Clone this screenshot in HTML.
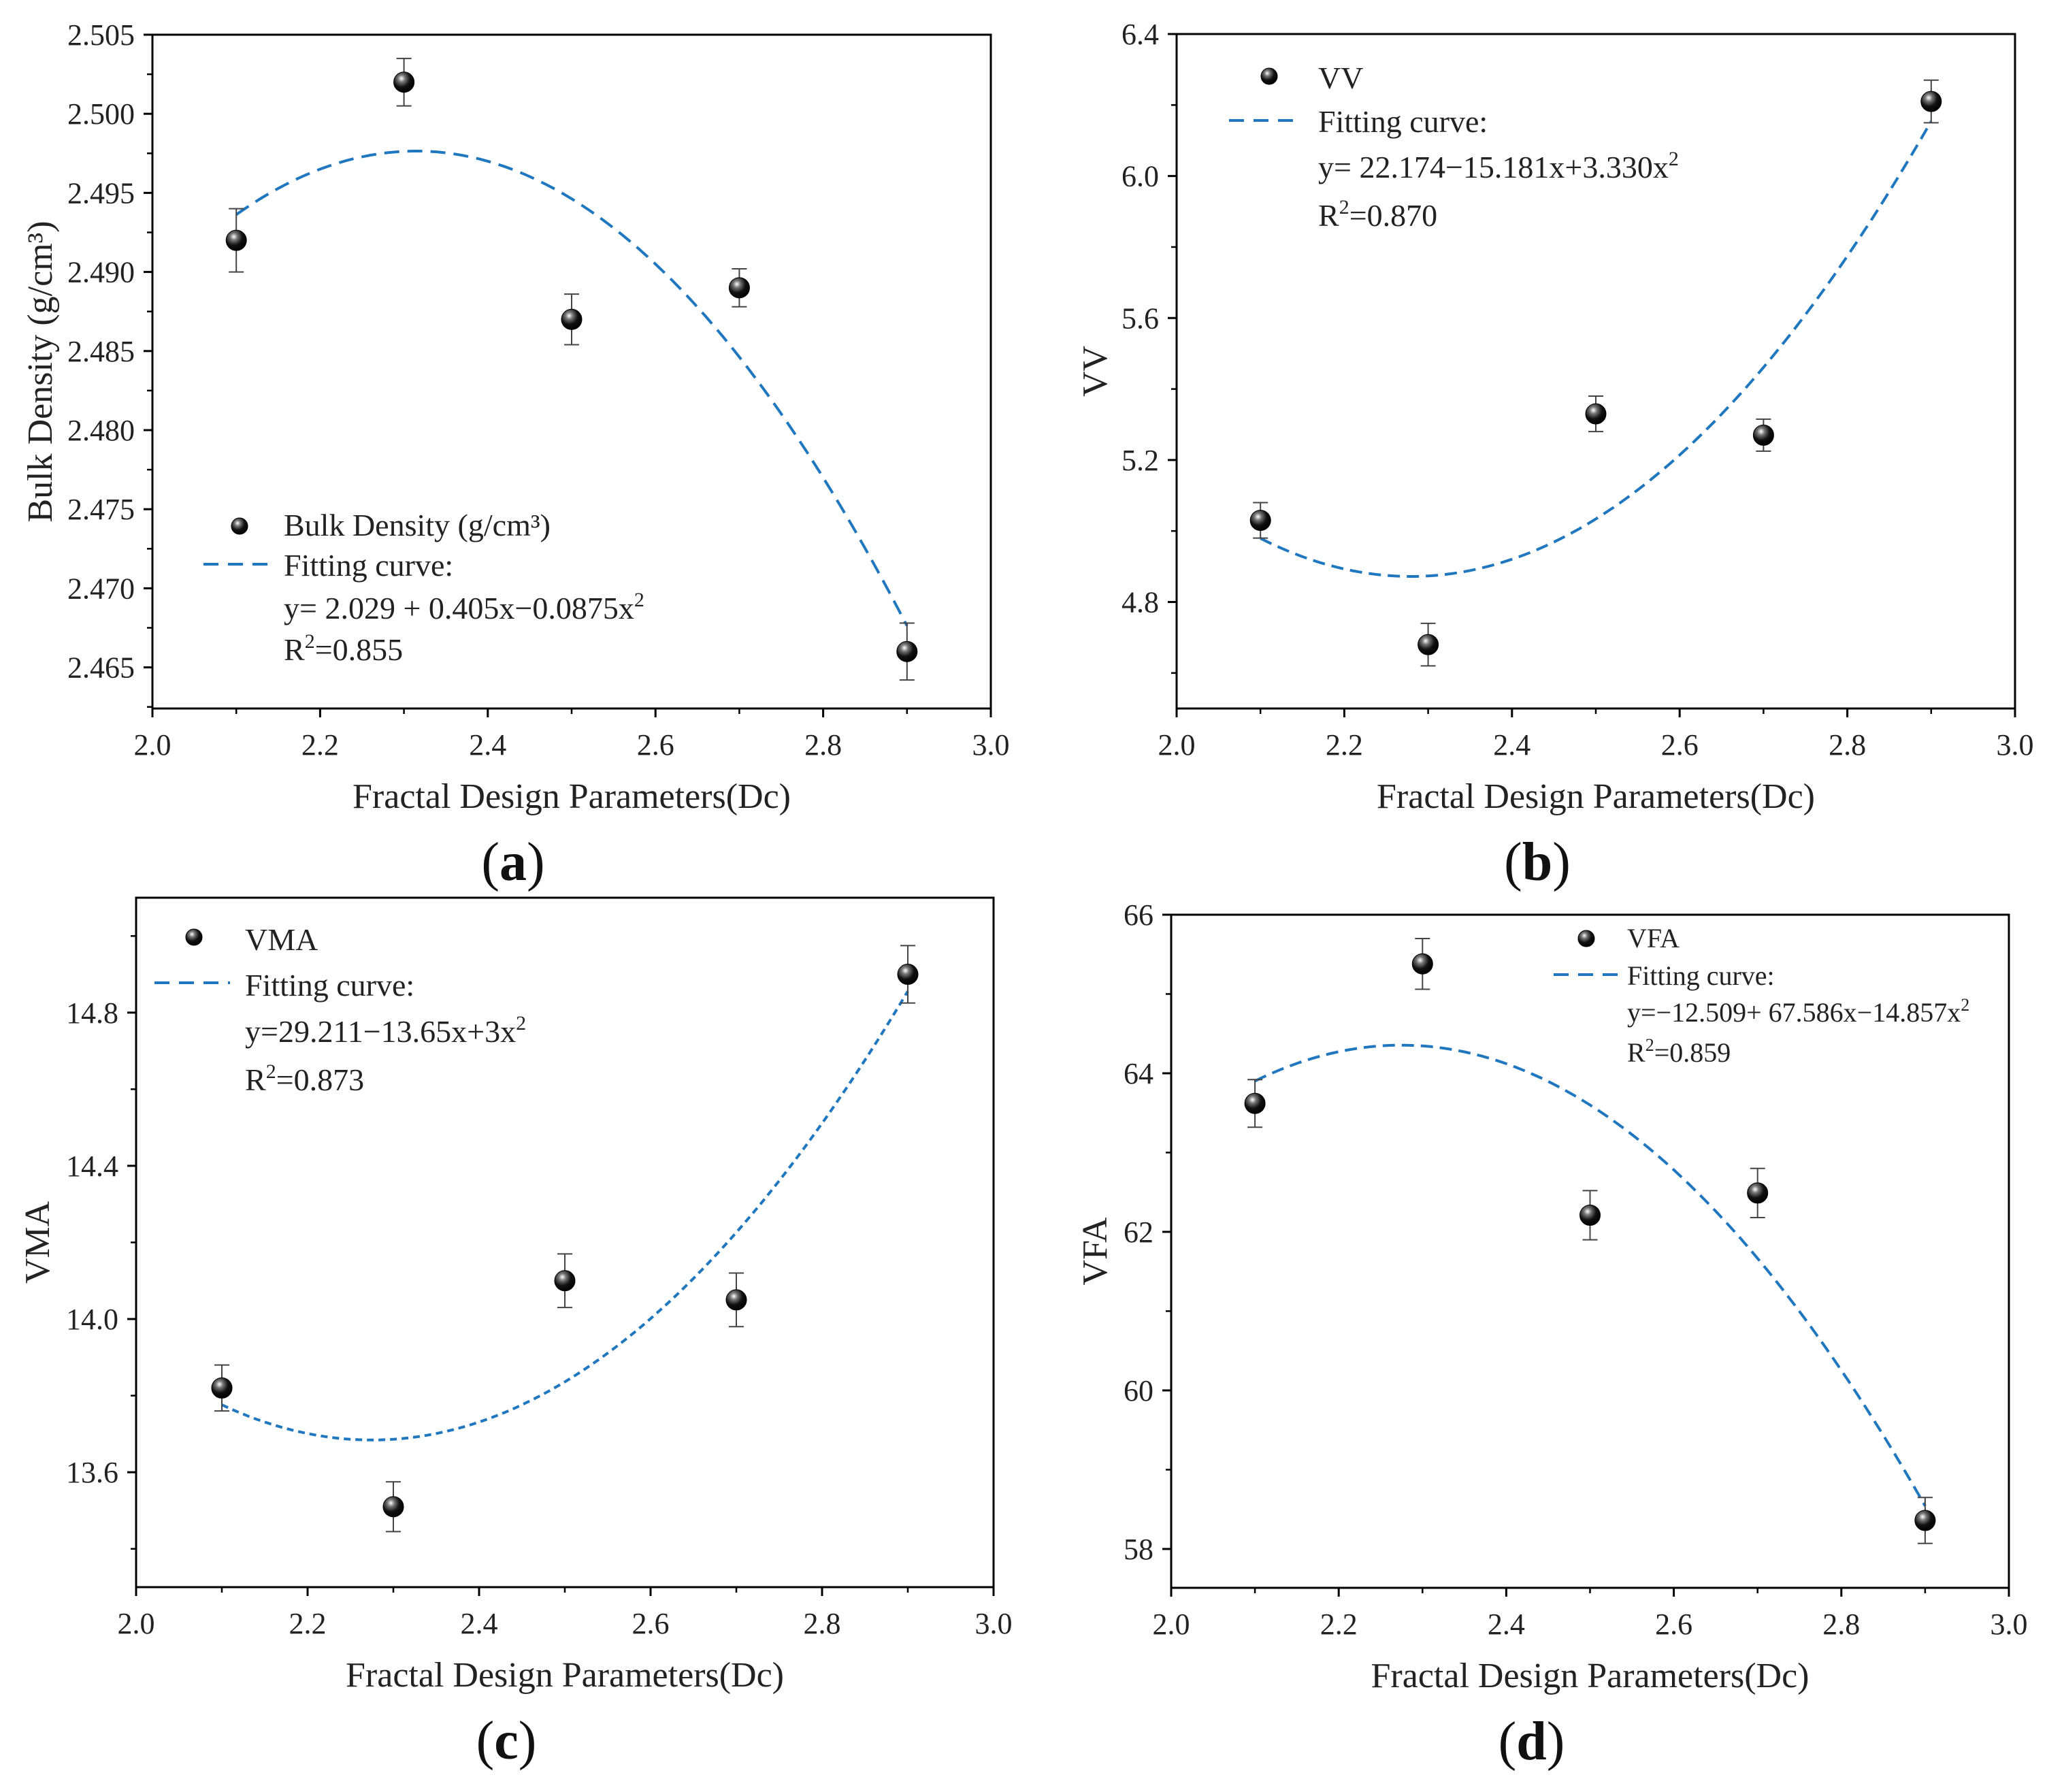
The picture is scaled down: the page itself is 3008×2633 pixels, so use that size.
<!DOCTYPE html>
<html><head><meta charset="utf-8"><style>
html,body{margin:0;padding:0;background:#fff;overflow:hidden;}
svg{display:block;font-family:"Liberation Serif",serif;}
</style></head><body>
<svg id="fig" width="3008" height="2633" viewBox="0 0 3008 2633" xmlns="http://www.w3.org/2000/svg">
<defs>
<radialGradient id="ball" cx="0.38" cy="0.32" r="0.7">
<stop offset="0" stop-color="#ffffff"/><stop offset="0.25" stop-color="#777"/><stop offset="0.6" stop-color="#111"/><stop offset="1" stop-color="#000"/>
</radialGradient>
</defs>
</svg>
<script>
const xCats = [2.1, 2.3, 2.5, 2.7, 2.9];
const xTicks = [2.0, 2.2, 2.4, 2.6, 2.8, 3.0];
const xTickLabels = ["2.0", "2.2", "2.4", "2.6", "2.8", "3.0"];
const bulkValues = [2.492, 2.502, 2.487, 2.489, 2.466];
const bulkErrors = [0.002, 0.0015, 0.0016, 0.0012, 0.0018];
const bulkCoef = [2.029, 0.405, -0.0875];
const bulkTicks = [2.465, 2.470, 2.475, 2.480, 2.485, 2.490, 2.495, 2.500, 2.505];
const bulkTickLabels = ["2.465","2.470","2.475","2.480","2.485","2.490","2.495","2.500","2.505"];
const vvValues = [5.03, 4.68, 5.33, 5.27, 6.21];
const vvErrors = [0.05, 0.06, 0.05, 0.045, 0.06];
const vvCoef = [22.174, -15.181, 3.330];
const vvTicks = [4.8, 5.2, 5.6, 6.0, 6.4];
const vvTickLabels = ["4.8","5.2","5.6","6.0","6.4"];
const vmaValues = [13.82, 13.51, 14.10, 14.05, 14.90];
const vmaErrors = [0.06, 0.065, 0.07, 0.07, 0.075];
const vmaCoef = [29.211, -13.65, 3];
const vmaTicks = [13.6, 14.0, 14.4, 14.8];
const vmaTickLabels = ["13.6","14.0","14.4","14.8"];
const vfaValues = [63.62, 65.38, 62.21, 62.49, 58.36];
const vfaErrors = [0.3, 0.32, 0.31, 0.31, 0.29];
const vfaCoef = [-12.509, 67.586, -14.857];
const vfaTicks = [58, 60, 62, 64, 66];
const vfaTickLabels = ["58","60","62","64","66"];

const NS = "http://www.w3.org/2000/svg";
const fig = document.getElementById("fig");
function mk(tag, attrs, parent, text){
  const e = document.createElementNS(NS, tag);
  for (const k in attrs) e.setAttribute(k, attrs[k]);
  if (text !== undefined) e.textContent = text;
  (parent || fig).appendChild(e);
  return e;
}

function panel(p){
  const g = mk("g", {});
  
  
  const sx = v => p.L + (v - 2.0) / 1.0 * (p.R - p.L);
  const sy = v => p.B - (v - p.ymin) / (p.ymax - p.ymin) * (p.B - p.T);
  const fr = mk("rect", {x:p.L, y:p.T, width:p.R-p.L, height:p.B-p.T, fill:"none", stroke:"#000", "stroke-width":3}, g);
  
  
  xTicks.forEach((t, i) => {
    const x = sx(t);
    mk("line", {x1:x, y1:p.B, x2:x, y2:p.B+13, stroke:"#000", "stroke-width":3}, g);
    const tl = mk("text", {x:x, y:p.B+68, "font-size":44, "text-anchor":"middle", fill:"#222"}, g, xTickLabels[i]);
    
    
    if (i < xTicks.length - 1) {
      const xm = sx(t + 0.1);
      mk("line", {x1:xm, y1:p.B, x2:xm, y2:p.B+8, stroke:"#000", "stroke-width":2.5}, g);
    }
  });
  const step = p.yTicks[1] - p.yTicks[0];
  p.yTicks.forEach((t, i) => {
    const y = sy(t);
    mk("line", {x1:p.L, y1:y, x2:p.L-13, y2:y, stroke:"#000", "stroke-width":3}, g);
    const tl = mk("text", {x:p.L-26, y:y+15, "font-size":44, "text-anchor":"end", fill:"#222"}, g, p.yTickLabels[i]);
    
    
  });
  for (let v = p.yTicks[0] - step/2; v <= p.ymax + 1e-9; v += step) {
    if (v < p.ymin) continue;
    const y = sy(v);
    mk("line", {x1:p.L, y1:y, x2:p.L-8, y2:y, stroke:"#000", "stroke-width":2.5}, g);
  }
  const xt = mk("text", {x:(p.L+p.R)/2, y:p.B+146, "font-size":52, "text-anchor":"middle", fill:"#222"}, g, "Fractal Design Parameters(Dc)");
  
  
  const yt = mk("text", {x:0, y:0, "font-size":52, "text-anchor":"middle", fill:"#222", transform:"translate(" + p.ytx + "," + ((p.T+p.B)/2) + ") rotate(-90)"}, g, p.ytitle);
  
  
  const pl = mk("text", {x:(p.L+p.R)/2 - 86, y:p.B+252, "font-size":80, "text-anchor":"middle", fill:"#111"}, g);
  mk("tspan", {}, pl, "(");
  mk("tspan", {"font-weight":"bold"}, pl, p.letter);
  mk("tspan", {}, pl, ")");
  
  
  let d = "";
  for (let k = 0; k <= 80; k++) {
    const x = 2.1 + 0.8 * k / 80;
    const y = p.coef[0] + p.coef[1]*x + p.coef[2]*x*x;
    d += (k ? "L" : "M") + sx(x).toFixed(1) + "," + sy(y).toFixed(1);
  }
  const fc = mk("path", {d:d, fill:"none", stroke:"#1f77c0", "stroke-width":4, "stroke-dasharray":p.dash}, g);
  
  
  xCats.forEach((c, i) => {
    const x = sx(c), y = sy(p.vals[i]);
    const y1 = sy(p.vals[i] + p.errs[i]), y2 = sy(p.vals[i] - p.errs[i]);
    const eb = mk("path", {d:"M"+x+","+y1+"V"+y2+"M"+(x-11)+","+y1+"H"+(x+11)+"M"+(x-11)+","+y2+"H"+(x+11), stroke:"#444", "stroke-width":2, fill:"none"}, g);
    
    
    const pt = mk("circle", {cx:x, cy:y, r:15, fill:"url(#ball)", stroke:"#000", "stroke-width":1}, g);
    
    
  });
  const lg = mk("g", {}, g);
  
  
  const lm = mk("circle", {cx:p.lg.mx, cy:p.lg.my, r:12, fill:"url(#ball)", stroke:"#000", "stroke-width":1}, lg);
  
  
  const ld = mk("line", {x1:p.lg.dx1, y1:p.lg.dy, x2:p.lg.dx2, y2:p.lg.dy, stroke:"#1f77c0", "stroke-width":4, "stroke-dasharray":"22,14"}, lg);
  
  
  p.lg.lines.forEach((ln, i) => {
    const t = mk("text", {x:p.lg.tx, y:p.lg.ys[i], "font-size":p.lg.fs, fill:"#222"}, lg);
    t.innerHTML = ln;
    
    
  });
}

panel({name:"bulk-density", letter:"a", L:224, R:1456, T:51, B:1041, ymin:2.4624, ymax:2.505,
  yTicks:bulkTicks, yTickLabels:bulkTickLabels, vals:bulkValues, errs:bulkErrors, coef:bulkCoef,
  ytitle:"Bulk Density (g/cm³)", ytx:76, dash:"22,12",
  lg:{mx:352, my:773, dx1:299, dx2:395, dy:829, tx:417, fs:46, ys:[787,846,909,970],
    lines:["Bulk Density (g/cm³)","Fitting curve:","y= 2.029 + 0.405x−0.0875x<tspan dy='-18' font-size='30'>2</tspan>","R<tspan dy='-18' font-size='30'>2</tspan><tspan dy='18'>=0.855</tspan>"]}});
panel({name:"vv", letter:"b", L:1729, R:2961, T:50, B:1041, ymin:4.5, ymax:6.4,
  yTicks:vvTicks, yTickLabels:vvTickLabels, vals:vvValues, errs:vvErrors, coef:vvCoef,
  ytitle:"VV", ytx:1626, dash:"18,10",
  lg:{mx:1865, my:112, dx1:1806, dx2:1902, dy:177, tx:1937, fs:46, ys:[130,194,261,332],
    lines:["VV","Fitting curve:","y= 22.174−15.181x+3.330x<tspan dy='-18' font-size='30'>2</tspan>","R<tspan dy='-18' font-size='30'>2</tspan><tspan dy='18'>=0.870</tspan>"]}});
panel({name:"vma", letter:"c", L:200, R:1460, T:1319, B:2332, ymin:13.3, ymax:15.1,
  yTicks:vmaTicks, yTickLabels:vmaTickLabels, vals:vmaValues, errs:vmaErrors, coef:vmaCoef,
  ytitle:"VMA", ytx:72, dash:"10,7",
  lg:{mx:285, my:1377, dx1:227, dx2:338, dy:1444, tx:360, fs:46, ys:[1396,1463,1531,1602],
    lines:["VMA","Fitting curve:","y=29.211−13.65x+3x<tspan dy='-18' font-size='30'>2</tspan>","R<tspan dy='-18' font-size='30'>2</tspan><tspan dy='18'>=0.873</tspan>"]}});
panel({name:"vfa", letter:"d", L:1721, R:2952, T:1344, B:2333, ymin:57.51, ymax:66,
  yTicks:vfaTicks, yTickLabels:vfaTickLabels, vals:vfaValues, errs:vfaErrors, coef:vfaCoef,
  ytitle:"VFA", ytx:1626, dash:"18,10",
  lg:{mx:2331, my:1379, dx1:2283, dx2:2381, dy:1432, tx:2391, fs:40, ys:[1392,1447,1501,1560],
    lines:["VFA","Fitting curve:","y=−12.509+ 67.586x−14.857x<tspan dy='-16' font-size='26'>2</tspan>","R<tspan dy='-16' font-size='26'>2</tspan><tspan dy='16'>=0.859</tspan>"]}});
</script>
</body></html>
